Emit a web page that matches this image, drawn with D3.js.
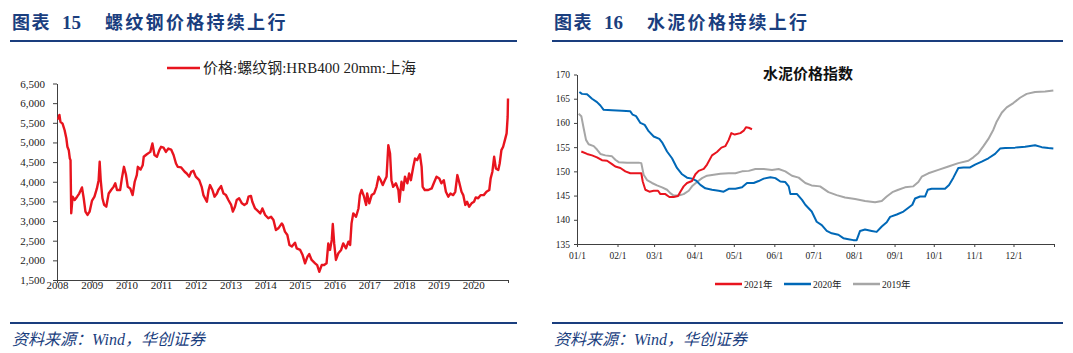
<!DOCTYPE html>
<html><head><meta charset="utf-8">
<script src="https://cdn.jsdelivr.net/npm/d3@7"></script>
<style>
body{margin:0;background:#fff;}
svg{display:block;}
</style></head>
<body>
<svg id="c" width="1073" height="353"></svg>
<script>
// ---- Chart 15: rebar price (decimal year, CNY/t) ----
const steelYears = [2008.03,2008.07,2008.10,2008.16,2008.22,2008.27,2008.30,2008.34,2008.37,2008.39,2008.41,2008.45,2008.51,2008.58,2008.64,2008.72,2008.77,2008.82,2008.88,2008.94,
2009.01,2009.08,2009.15,2009.20,2009.23,2009.26,2009.31,2009.36,2009.42,2009.49,2009.56,2009.63,2009.68,2009.73,2009.82,2009.87,2009.93,2009.99,
2010.04,2010.11,2010.18,2010.24,2010.30,2010.33,2010.41,2010.47,2010.50,2010.59,2010.69,2010.75,2010.81,2010.88,2010.95,
2011.00,2011.07,2011.14,2011.21,2011.29,2011.36,2011.43,2011.48,2011.58,2011.68,2011.74,2011.81,2011.87,2011.93,
2012.00,2012.10,2012.17,2012.22,2012.32,2012.37,2012.41,2012.48,2012.54,2012.61,2012.65,2012.73,2012.80,2012.87,2012.94,
2013.02,2013.07,2013.13,2013.18,2013.25,2013.33,2013.40,2013.47,2013.52,2013.59,2013.63,2013.71,2013.81,2013.86,2013.92,
2014.00,2014.09,2014.17,2014.24,2014.31,2014.38,2014.48,2014.51,2014.57,2014.64,2014.70,2014.77,2014.86,2014.91,
2015.01,2015.08,2015.15,2015.22,2015.27,2015.34,2015.44,2015.50,2015.56,2015.63,2015.70,2015.77,2015.82,2015.87,2015.92,2015.95,2015.99,
2016.04,2016.11,2016.19,2016.25,2016.33,2016.40,2016.45,2016.49,2016.54,2016.62,2016.69,2016.73,2016.78,2016.85,2016.91,2016.94,
2017.00,2017.07,2017.14,2017.21,2017.27,2017.33,2017.39,2017.45,2017.50,2017.55,2017.60,2017.64,2017.69,2017.77,2017.84,2017.87,2017.93,2017.98,
2018.03,2018.10,2018.15,2018.20,2018.27,2018.32,2018.38,2018.46,2018.51,2018.54,2018.60,2018.70,2018.80,2018.86,2018.94,
2019.02,2019.08,2019.15,2019.21,2019.28,2019.34,2019.42,2019.48,2019.54,2019.59,2019.66,2019.71,2019.77,2019.82,2019.88,2019.95,
2020.02,2020.07,2020.14,2020.21,2020.30,2020.38,2020.46,2020.50,2020.55,2020.60,2020.65,2020.72,2020.76,2020.81,2020.86,2020.91,2020.96,2020.99,2021.00];
const steelPrices = [5580,5700,5525,5480,5310,5100,4890,4800,4590,4550,3200,3620,3535,3620,3700,3855,3580,3240,3155,3240,
3520,3620,3830,4040,4510,4040,3580,3410,3365,3700,3790,3870,3960,3790,3790,4085,4380,4170,
3870,3830,3660,4000,4170,4380,4310,4420,4635,4700,4760,4975,4680,4635,4805,
4890,4870,4760,4845,4820,4680,4465,4380,4365,4255,4210,4130,4255,4280,
4130,4040,3870,3660,3490,3790,3915,3790,3620,3700,3790,3890,3700,3660,3535,
3410,3240,3365,3535,3580,3450,3410,3450,3620,3640,3490,3320,3240,3195,3320,
3155,3070,3110,3025,2770,2815,2940,2900,2730,2645,2390,2350,2450,2305,
2265,2135,1925,2095,2160,2010,1925,1880,1710,1880,1880,1925,2430,2265,2520,2925,2430,
2010,2180,2265,2430,2305,2475,2390,2940,3195,3110,3320,3660,3790,3620,3410,3700,
3450,3660,3700,3870,4130,4040,3915,4040,4130,4930,4720,4040,3870,3960,3790,3490,4000,3790,
4130,3960,4210,4040,4380,4590,4550,4700,4380,3870,3790,3790,3830,3960,4130,
4085,3960,4040,3745,3620,3700,3660,3745,4170,4000,3745,3660,3410,3490,3365,3450,
3490,3600,3580,3660,3660,3745,3790,4085,4255,4635,4340,4300,4465,4805,4890,5060,5230,5650,6120];
const steelYearTicks = [2008,2009,2010,2011,2012,2013,2014,2015,2016,2017,2018,2019,2020,2021];
const steelPriceTicks = [1500,2000,2500,3000,3500,4000,4500,5000,5500,6000,6500];
const steelLegend = "价格:螺纹钢:HRB400 20mm:上海";

// ---- Chart 16: cement price index (day of year, index) ----
const days2021 = [3.3,7.7,11.5,15.3,19.1,23.0,26.8,29.3,33.2,37.0,40.8,45.9,49.2,50.3,52.3,55.4,58.7,62.0,63.8,67.6,70.7,74.0,77.3,79.1,81.6,84.2,88.0,90.6,93.1,97.0,99.5,103.3,107.1,110.5,113.5,116.1,118.1,120.7,125.0,127.6,129.3,131.4,133.9];
const index2021 = [154.1,153.6,153.3,152.9,152.3,152.2,151.5,151.0,150.7,150.0,149.6,149.6,149.6,147.9,146.2,145.8,146.0,146.0,145.3,145.3,144.7,144.7,144.9,145.8,146.9,147.6,148.0,149.4,150.1,150.5,151.4,153.3,154.0,154.9,155.2,156.5,157.9,157.6,157.9,158.4,159.1,159.0,158.7];
const days2020 = [1.8,3.8,7.7,11.5,15.3,17.9,20.4,26.8,34.4,40.8,42.6,45.2,48.5,51.8,54.8,58.7,63.0,65.1,68.9,72.7,76.5,80.4,84.2,88.0,91.1,94.4,98.2,103.3,108.4,112.2,116.1,121.2,126.3,130.1,135.2,139.0,142.9,148.0,151.8,155.6,159.4,162.0,163.3,168.4,172.2,174.7,179.6,183.4,187.3,191.1,194.9,200.0,203.8,207.7,211.5,214.0,216.6,220.4,225.5,229.3,233.2,237.0,239.6,244.7,249.8,253.6,256.6,258.7,262.5,266.3,268.4,271.4,281.6,284.7,288.0,291.8,295.7,300.8,304.6,309.7,314.8,319.9,323.7,327.6,335.2,342.9,350.5,355.6,360.7,364.5];
const index2020 = [166.4,166.0,165.9,165.0,164.3,163.6,162.7,162.6,162.5,162.4,161.7,161.4,160.0,159.6,158.3,157.2,156.7,156.0,154.1,152.7,150.7,149.4,148.7,148.5,148.1,147.2,146.5,146.2,146.0,145.8,146.4,146.4,146.7,147.6,147.6,148.0,148.5,148.8,148.6,147.9,147.8,146.9,145.3,145.3,144.1,143.1,141.7,139.6,138.9,137.7,137.2,136.9,136.2,136.0,135.8,135.8,137.7,138.0,137.7,137.5,138.6,139.5,140.6,141.1,141.7,142.5,143.1,144.4,144.8,144.8,146.2,146.4,146.4,147.2,148.7,150.7,150.8,150.8,151.4,152.0,152.7,153.6,154.7,154.8,154.9,155.1,155.4,155.0,154.8,154.7];
const days2019 = [1.3,3.3,5.1,6.9,8.9,12.8,15.3,17.9,21.7,26.8,29.3,31.9,38.3,47.2,49.2,51.0,53.6,57.4,61.2,65.1,68.9,71.4,74.0,77.8,81.6,85.5,88.0,91.8,95.7,99.5,104.6,109.7,116.1,121.2,126.3,131.4,136.5,142.9,149.2,154.3,159.4,164.5,169.6,174.7,179.5,186.0,192.4,198.7,205.1,212.8,220.4,228.1,233.2,237.0,241.3,245.9,251.0,257.4,261.2,263.8,268.9,276.5,284.2,291.8,299.5,303.3,307.2,311.0,314.8,318.6,321.2,325.0,328.8,333.9,339.0,344.1,350.5,358.2,364.5];
const index2019 = [161.9,161.4,158.9,156.5,155.6,155.2,154.5,153.6,153.3,153.1,152.4,151.9,151.8,151.8,151.7,149.3,148.2,147.6,147.1,146.7,146.2,145.5,145.0,145.0,145.3,146.0,146.9,147.8,148.6,149.1,149.3,149.5,149.6,149.6,150.0,150.1,150.5,150.5,150.3,150.5,150.0,149.1,148.7,147.6,147.1,146.9,145.7,145.1,144.6,144.3,143.9,143.6,143.9,144.8,145.7,146.2,146.7,146.9,147.8,148.9,149.6,150.3,151.0,151.7,152.2,152.9,153.8,155.2,156.7,158.6,160.3,162.1,163.2,164.1,165.2,166.0,166.4,166.5,166.7];
const monthStartDays = [0,31,59,90,120,151,181,212,243,273,304,334,365];
const monthLabels = ["01/1","02/1","03/1","04/1","05/1","06/1","07/1","08/1","09/1","10/1","11/1","12/1",""];
const cementTicks = [135,140,145,150,155,160,165,170];
const cementSeries = [
  {name:"2021年", days:days2021, vals:index2021, color:"#E8141E"},
  {name:"2020年", days:days2020, vals:index2020, color:"#0068B7"},
  {name:"2019年", days:days2019, vals:index2019, color:"#A6A6A6"}
];

const NAVY = "#1A3E7E";
const SERIF = "'Liberation Serif','Times New Roman','Noto Sans CJK SC',serif";
const CJK = "'Noto Sans CJK SC','Liberation Serif',sans-serif";
const svg = d3.select("#c");
svg.append("rect").attr("width",1073).attr("height",353).attr("fill","#fff");

// ---- Frame: headers, rules, sources ----
function frame(x0, x1, num, title){
  svg.append("text").attr("x", x0+2).attr("y", 29).attr("fill", NAVY)
    .attr("font-family", CJK).attr("font-weight", 700).attr("font-size", 18)
    .attr("letter-spacing", 1.5).text("图表");
  svg.append("text").attr("x", x0+52).attr("y", 29).attr("fill", NAVY)
    .attr("font-family", SERIF).attr("font-weight", 700).attr("font-size", 19).text(num);
  svg.append("text").attr("x", x0+95).attr("y", 29).attr("fill", NAVY)
    .attr("font-family", CJK).attr("font-weight", 700).attr("font-size", 18)
    .attr("letter-spacing", 2.3).text(title);
  svg.append("line").attr("x1", x0).attr("x2", x1).attr("y1", 41).attr("y2", 41)
    .attr("stroke", NAVY).attr("stroke-width", 2);
  svg.append("line").attr("x1", x0).attr("x2", x1).attr("y1", 323).attr("y2", 323)
    .attr("stroke", NAVY).attr("stroke-width", 2);
  const s = svg.append("text").attr("x", x0+2).attr("y", 345).attr("fill", NAVY)
    .attr("font-style","italic").attr("font-size", 16);
  s.append("tspan").attr("font-family", CJK).text("资料来源：");
  s.append("tspan").attr("font-family", SERIF).text("Wind");
  s.append("tspan").attr("font-family", CJK).text("，华创证券");
}
frame(10, 517, "15", "螺纹钢价格持续上行");
frame(552, 1063, "16", "水泥价格持续上行");

// ---- Chart 15 ----
{
  const x = d3.scaleLinear().domain([2008, 2021]).range([57, 508]);
  const y = d3.scaleLinear().domain([1500, 6500]).range([280, 83.5]);
  const g = svg.append("g");
  const ya = g.append("g").attr("transform","translate(57,0)")
    .call(d3.axisLeft(y).tickValues(steelPriceTicks).tickSize(4).tickSizeOuter(0).tickPadding(8).tickFormat(d3.format(",")));
  const xa = g.append("g").attr("transform","translate(0,280)")
    .call(d3.axisBottom(x).tickValues(steelYearTicks).tickSize(3).tickSizeOuter(0).tickFormat(d => d < 2021 ? String(d) : ""));
  [ya, xa].forEach(a => {
    a.selectAll("path.domain").attr("stroke","#404040");
    a.selectAll(".tick line").attr("stroke","#404040");
    a.selectAll("text").attr("font-family", SERIF).attr("font-size", 11).attr("fill","#222");
  });
  xa.selectAll("text").attr("y", 8.5).attr("dy", 0);
  const line = d3.line().x((d,i) => x(steelYears[i])).y(d => y(d));
  g.append("path").datum(steelPrices).attr("d", line).attr("fill","none")
    .attr("stroke","#E8141E").attr("stroke-width",2.4).attr("stroke-linejoin","round");
  // legend
  g.append("line").attr("x1",167).attr("x2",200).attr("y1",68).attr("y2",68)
    .attr("stroke","#E8141E").attr("stroke-width",2.5);
  g.append("text").attr("x",203).attr("y",73).attr("font-family",SERIF).attr("font-size",15)
    .attr("fill","#222").text(steelLegend);
}

// ---- Chart 16 ----
{
  const x = d3.scaleLinear().domain([0, 365]).range([577, 1054]);
  const y = d3.scaleLinear().domain([135, 170]).range([244, 74.5]);
  const g = svg.append("g");
  const ya = g.append("g").attr("transform","translate(577,0)")
    .call(d3.axisLeft(y).tickValues(cementTicks).tickSize(3).tickSizeOuter(0).tickPadding(4));
  const xa = g.append("g").attr("transform","translate(0,244)")
    .call(d3.axisBottom(x).tickValues(monthStartDays).tickSize(3).tickSizeOuter(0).tickFormat((d,i) => monthLabels[i]));
  [ya, xa].forEach(a => {
    a.selectAll("path.domain").attr("stroke","#404040");
    a.selectAll(".tick line").attr("stroke","#404040");
    a.selectAll("text").attr("font-family", SERIF).attr("font-size", 9.5).attr("fill","#222");
  });
  xa.selectAll("text").attr("y", 15).attr("dy", 0);
  g.append("text").attr("x",808).attr("y",79).attr("text-anchor","middle")
    .attr("font-family",CJK).attr("font-weight",700).attr("font-size",15).attr("fill","#111").text("水泥价格指数");
  // draw order: 2019, 2020, 2021 on top
  cementSeries.slice().reverse().forEach(s => {
    const line = d3.line().x((d,i) => x(s.days[i])).y(d => y(d));
    g.append("path").datum(s.vals).attr("d", line).attr("fill","none")
      .attr("stroke", s.color).attr("stroke-width", 2).attr("stroke-linejoin","round");
  });
  const lx = [715, 784, 853];
  cementSeries.forEach((s, i) => {
    g.append("line").attr("x1", lx[i]).attr("x2", lx[i]+27).attr("y1",284).attr("y2",284)
      .attr("stroke", s.color).attr("stroke-width", 2.5);
    g.append("text").attr("x", lx[i]+29).attr("y", 287.5).attr("font-family", SERIF)
      .attr("font-size", 9.5).attr("fill","#222").text(s.name);
  });
}
</script>
</body></html>
